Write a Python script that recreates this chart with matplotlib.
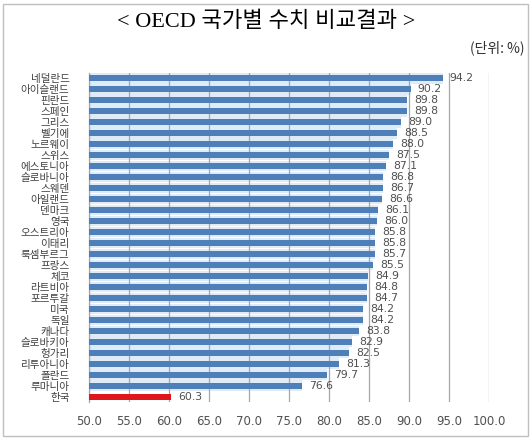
import matplotlib
matplotlib.use("Agg")
import matplotlib.pyplot as plt
from matplotlib.patches import Rectangle
import numpy as np

plt.rcParams['font.family'] = ['Noto Sans CJK KR', 'DejaVu Sans']

countries = [
    "네덜란드", "아이슬랜드", "핀란드", "스페인", "그리스", "벨기에", "노르웨이",
    "스위스", "에스토니아", "슬로바니아", "스웨덴", "아일랜드", "덴마크", "영국",
    "오스트리아", "이태리", "룩셈부르그", "프랑스", "체코", "라트비아", "포르투갈",
    "미국", "독일", "캐나다", "슬로바키아", "헝가리", "리투아니아", "폴란드",
    "루마니아", "한국",
]
values = [
    94.2, 90.2, 89.8, 89.8, 89.0, 88.5, 88.0,
    87.5, 87.1, 86.8, 86.7, 86.6, 86.1, 86.0,
    85.8, 85.8, 85.7, 85.5, 84.9, 84.8, 84.7,
    84.2, 84.2, 83.8, 82.9, 82.5, 81.3, 79.7,
    76.6, 60.3,
]
highlight = "한국"
xticks = [50, 55, 60, 65, 70, 75, 80, 85, 90, 95, 100]

BLUE = "#4f7fb8"
LIGHT = "#dfecf7"
RED = "#e0161b"

fig = plt.figure(figsize=(5.32, 4.4), dpi=100)
ax = fig.add_axes([89 / 532, 1 - 402 / 440, 400 / 532, 329 / 440])

y = np.arange(len(countries))
colors = [RED if c == highlight else BLUE for c in countries]
back = [v if c != highlight else 0 for c, v in zip(countries, values)]
ax.barh(y, back, height=0.95, color=LIGHT, zorder=2)
ax.barh(y, values, height=0.55, color=colors, zorder=3)

for yi, v in zip(y, values):
    ax.text(v + 0.9, yi, f"{v:.1f}", va="center", ha="left",
            fontsize=7.8, color="#505050", family="DejaVu Sans", zorder=4)

ax.set_xlim(50, 100)
ax.set_ylim(len(countries) - 0.5, -0.5)
ax.set_xticks(xticks)
ax.set_xticklabels([f"{t:.1f}" for t in xticks], fontsize=8.5, color="#505050",
                   family="DejaVu Sans")
ax.set_yticks(y)
ax.set_yticklabels(countries, fontsize=7.6, color="#404040")
ax.tick_params(axis="x", length=0, pad=9)
ax.tick_params(axis="y", length=0, pad=14)
ax.set_axisbelow(False)
ax.grid(axis="x", color="#a6a6a6", linewidth=0.9)
ax.grid(axis="y", visible=False)
for s in ["top", "right", "bottom"]:
    ax.spines[s].set_visible(False)
ax.spines["left"].set_color("#a6a6a6")
ax.spines["left"].set_linewidth(0.9)
for gl in ax.get_xgridlines():
    gl.set_zorder(2.5)

fig.text(0.5, 1 - 22 / 440, "< OECD 국가별 수치 비교결과 >", ha="center",
         va="center", fontsize=16, color="black",
         family=["Liberation Serif", "Noto Sans CJK KR"])
fig.text(524 / 532, 1 - 48 / 440, "(단위: %)", ha="right", va="center",
         fontsize=10, color="#303030")

fig.patches.append(Rectangle((3 / 532, 4 / 440), 525 / 532, 432 / 440,
                             transform=fig.transFigure, fill=False,
                             edgecolor="#bfbfbf", linewidth=1))

fig.savefig("out.png", dpi=100)
